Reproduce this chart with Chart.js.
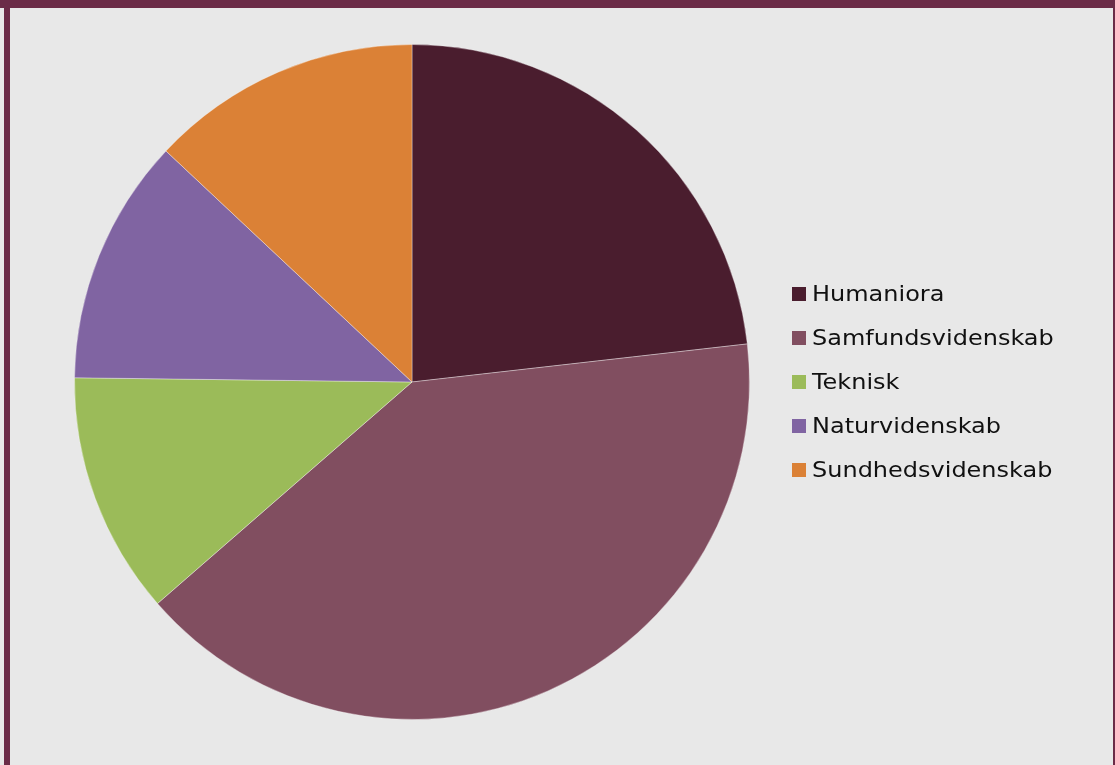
<!DOCTYPE html>
<html>
<head>
<meta charset="utf-8">
<script src="https://cdn.jsdelivr.net/npm/chart.js@4"></script>
<style>
    html, body { margin: 0; padding: 0; background: #E8E8E8; overflow: hidden; }
    #wrap { position: relative; width: 1115px; height: 765px; }
    #chart { position: absolute; left: 0; top: 0; }
    .bar { position: absolute; background: #6B2B47; }
    #legend { position: absolute; left: 792px; top: 282px; font-family: "DejaVu Sans", Verdana, sans-serif; font-size: 20.5px; color: #111; }
    #legend div { height: 44px; display: flex; align-items: flex-start; }
    #legend span.box { width: 14px; height: 14px; margin-top: 5px; margin-right: 6px; display: inline-block; }
    #legend span.txt { display: inline-block; transform: scaleX(1.17); transform-origin: left center; white-space: nowrap; }
</style>
</head>
<body>
<div id="wrap">
    <canvas id="chart" width="1115" height="765"></canvas>
    <div class="bar" style="left:0;top:0;width:1115px;height:8px"></div>
    <div class="bar" style="left:4px;top:0;width:6px;height:765px"></div>
    <div class="bar" style="left:1113px;top:0;width:2px;height:765px"></div>
    <div id="legend"></div>
</div>
<script>
// Fagområder - andel
const categories = ['Humaniora', 'Samfundsvidenskab', 'Teknisk', 'Naturvidenskab', 'Sundhedsvidenskab'];
const shares = [23.2, 40.4, 11.6, 11.8, 13.0];
const colors = ['#4A1D2E', '#814E60', '#9BBB59', '#8064A2', '#DB8136'];

const ctx = document.getElementById('chart').getContext('2d');
const chart = new Chart(ctx, {
    type: 'pie',
    data: {
        labels: categories,
        datasets: [{
            data: shares,
            backgroundColor: colors,
            borderColor: 'rgba(255,255,255,0.35)',
            borderWidth: 1
        }]
    },
    options: {
        responsive: false,
        animation: false,
        devicePixelRatio: 1,
        layout: {
            padding: { left: 74, top: 44, right: 365, bottom: 45 }
        },
        plugins: {
            legend: { display: false },
            tooltip: { enabled: false }
        }
    }
});

// Build the legend from the chart's own labels
const legendEl = document.getElementById('legend');
chart.options.plugins.legend.labels.generateLabels(chart).forEach(item => {
    const row = document.createElement('div');
    const box = document.createElement('span');
    box.className = 'box';
    box.style.background = item.fillStyle;
    const txt = document.createElement('span');
    txt.className = 'txt';
    txt.textContent = item.text;
    row.appendChild(box);
    row.appendChild(txt);
    legendEl.appendChild(row);
});
</script>
</body>
</html>
